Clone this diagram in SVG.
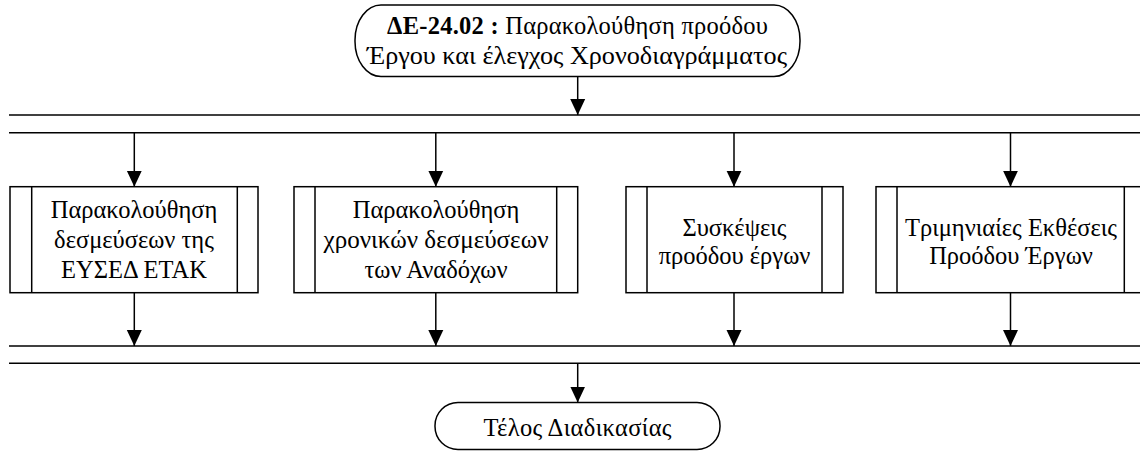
<svg xmlns="http://www.w3.org/2000/svg" width="1140" height="451" viewBox="0 0 1140 451">
  <style>
    .shape { fill: #ffffff; stroke: #000000; stroke-width: 1.5; }
    .bar { stroke: #000000; stroke-width: 1.5; fill: none; }
    .edge { stroke: #000000; stroke-width: 1.5; fill: none; marker-end: url(#arrow); }
    .label { font-family: "Liberation Serif", "Times New Roman", serif; font-size: 24.5px; fill: #000000; text-anchor: middle; }
    .bold { font-weight: bold; }
  </style>
  <defs>
    <marker id="arrow" markerUnits="userSpaceOnUse" markerWidth="16" markerHeight="16" refX="16" refY="7.5" orient="auto" viewBox="0 0 16 15">
      <path d="M0,0 L16,7.5 L0,15 Z" fill="#000000"/>
    </marker>
  </defs>

  <rect width="1140" height="451" fill="#ffffff"/>

  <!-- start terminator -->
  <g id="start">
    <rect class="shape" x="355" y="5" width="445" height="71.5" rx="26" ry="35"/>
    <text class="label" x="577.5" y="33.5" textLength="381"><tspan class="bold">ΔΕ-24.02 :</tspan> Παρακολούθηση προόδου</text>
    <text class="label" x="577" y="63.5" textLength="420" lengthAdjust="spacingAndGlyphs">Έργου και έλεγχος Χρονοδιαγράμματος</text>
  </g>

  <!-- fork / join bars -->
  <g id="fork">
    <line class="bar" x1="9" y1="115" x2="1140" y2="115"/>
    <line class="bar" x1="9" y1="132.7" x2="1140" y2="132.7"/>
  </g>
  <g id="join">
    <line class="bar" x1="9" y1="346" x2="1140" y2="346"/>
    <line class="bar" x1="9" y1="363.3" x2="1140" y2="363.3"/>
  </g>

  <!-- predefined processes -->
  <g id="p1">
    <rect class="shape" x="10" y="186.7" width="248" height="106"/>
    <line class="bar" x1="31.7" y1="186.7" x2="31.7" y2="292.7"/>
    <line class="bar" x1="237.3" y1="186.7" x2="237.3" y2="292.7"/>
    <text class="label" x="134" y="217.5">Παρακολούθηση</text>
    <text class="label" x="134" y="247.5">δεσμεύσεων της</text>
    <text class="label" x="134" y="277.5">ΕΥΣΕΔ ΕΤΑΚ</text>
  </g>
  <g id="p2">
    <rect class="shape" x="294" y="186.7" width="283.7" height="106"/>
    <line class="bar" x1="315" y1="186.7" x2="315" y2="292.7"/>
    <line class="bar" x1="556.7" y1="186.7" x2="556.7" y2="292.7"/>
    <text class="label" x="436" y="217.5">Παρακολούθηση</text>
    <text class="label" x="436" y="247.5" textLength="225" lengthAdjust="spacingAndGlyphs">χρονικών δεσμεύσεων</text>
    <text class="label" x="436" y="277.5">των Αναδόχων</text>
  </g>
  <g id="p3">
    <rect class="shape" x="626" y="186.7" width="217" height="106"/>
    <line class="bar" x1="647" y1="186.7" x2="647" y2="292.7"/>
    <line class="bar" x1="822" y1="186.7" x2="822" y2="292.7"/>
    <text class="label" x="734.5" y="236">Συσκέψεις</text>
    <text class="label" x="734.5" y="263.5">προόδου έργων</text>
  </g>
  <g id="p4">
    <rect class="shape" x="876" y="186.7" width="270" height="106"/>
    <line class="bar" x1="897" y1="186.7" x2="897" y2="292.7"/>
    <line class="bar" x1="1124.3" y1="186.7" x2="1124.3" y2="292.7"/>
    <text class="label" x="1011" y="236">Τριμηνιαίες Εκθέσεις</text>
    <text class="label" x="1011" y="263.5">Προόδου Έργων</text>
  </g>

  <!-- end terminator -->
  <g id="end">
    <rect class="shape" x="435" y="402.5" width="285" height="47" rx="23" ry="23"/>
    <text class="label" x="577.5" y="436" textLength="188">Τέλος Διαδικασίας</text>
  </g>

  <!-- connectors -->
  <g id="connectors">
    <line class="edge" x1="577.7" y1="76.5" x2="577.7" y2="115"/>
    <line class="edge" x1="134.3" y1="132.7" x2="134.3" y2="186.7"/>
    <line class="edge" x1="435.8" y1="132.7" x2="435.8" y2="186.7"/>
    <line class="edge" x1="734" y1="132.7" x2="734" y2="186.7"/>
    <line class="edge" x1="1010.5" y1="132.7" x2="1010.5" y2="186.7"/>
    <line class="edge" x1="134.3" y1="292.7" x2="134.3" y2="346"/>
    <line class="edge" x1="435.8" y1="292.7" x2="435.8" y2="346"/>
    <line class="edge" x1="734" y1="292.7" x2="734" y2="346"/>
    <line class="edge" x1="1010.5" y1="292.7" x2="1010.5" y2="346"/>
    <line class="edge" x1="577.7" y1="363.3" x2="577.7" y2="402.5"/>
  </g>
</svg>
